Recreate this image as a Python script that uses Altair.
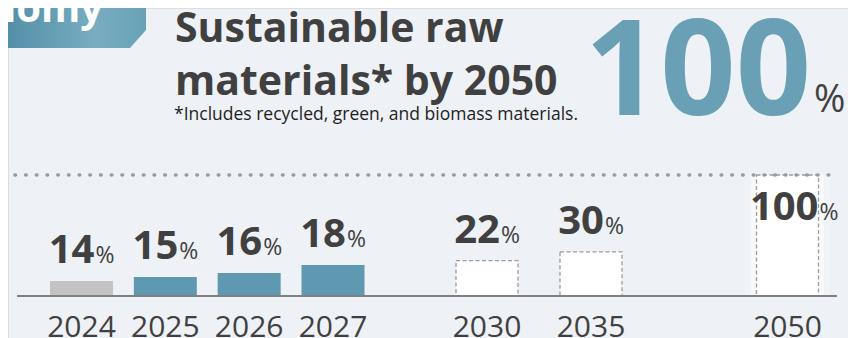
import altair as alt
import pandas as pd

# ---------------- data ----------------
years = [2024, 2025, 2026, 2027, 2030, 2035, 2050]
year_labels = ["2024", "2025", "2026", "2027", "2030", "2035", "2050"]
values = [14, 15, 16, 18, 22, 30, 100]
status = ["actual", "plan", "plan", "plan", "target", "target", "target"]

section_label = "onomy"
title_lines = ["Sustainable raw", "materials* by 2050"]
footnote = "*Includes recycled, green, and biomass materials."
headline_value = "100"
headline_unit = "%"
unit = "%"

df = pd.DataFrame({"year": years, "label": year_labels, "value": values, "status": status})

# ---------------- style ----------------
W, H = 840, 330
FONT = "Open Sans"
BG = "#EEF1F5"
BLUE = "#5F99B1"
BIG_BLUE = "#6AA0B6"
GRAY = "#C3C3C3"
DARK = "#404040"

Y0 = 10.25
xscale = alt.Scale(type="linear", domain=[2024, 2027, 2030, 2035, 2050],
                   range=[73.5, 325, 479, 583, 779.5], zero=False, nice=False, padding=0)
yscale = alt.Scale(type="linear", domain=[Y0, 18, 100], range=[288, 257, 167],
                   zero=False, nice=False, padding=0)

one = alt.Data(values=[{"k": 0}])
base = alt.Chart(df)
X = alt.X("year:Q", scale=xscale, axis=None)
Y = alt.Y("value:Q", scale=yscale, axis=None)


def txt(s, x, y, size, weight="normal", color=DARK, align="left"):
    return alt.Chart(one).mark_text(
        font=FONT, fontSize=size, fontWeight=weight, color=color,
        align=align, baseline="alphabetic"
    ).encode(x=alt.value(x), y=alt.value(y), text=alt.value(s))


# header box with bevelled corner
box = alt.Chart(one).mark_point(
    shape="M -1 -0.3288 L 1 -0.3288 L 1 0.0822 L 0.781 0.3288 L -1 0.3288 Z",
    size=21316, filled=True, opacity=1, strokeWidth=0,
    fill={"gradient": "linear", "x1": 0, "x2": 1, "y1": 0, "y2": 0,
          "stops": [{"offset": 0, "color": "#4F8DA6"},
                    {"offset": 0.65, "color": "#78ADC1"},
                    {"offset": 1, "color": "#68A1B6"}]},
).encode(x=alt.value(65), y=alt.value(16))

box_text = txt(section_label, 95, 14, 40, "bold", "white", "right")
t1 = txt(title_lines[0], 167, 34, 41, "bold")
t2 = txt(title_lines[1], 167, 87, 41, "bold")
t3 = txt(footnote, 166, 112, 17.5, "normal", "#1E1E1E")
big = txt(headline_value, 690, 107, 132, "bold", BIG_BLUE, "center")
big_pct = txt(headline_unit, 806, 104, 38, "normal", DARK)

dotted = alt.Chart(one).mark_rule(
    color="#9A9A9A", strokeWidth=3.6, strokeCap="round", strokeDash=[0.5, 10.2]
).encode(x=alt.value(7), x2=alt.value(830), y=alt.YDatum(100, scale=yscale, axis=None))

baseline = alt.Chart(one).mark_rule(color="#808080", strokeWidth=2).encode(
    x=alt.value(9), x2=alt.value(829), y=alt.YDatum(Y0, scale=yscale, axis=None))

solid = base.transform_filter("datum.status != 'target'").mark_bar(size=63).encode(
    x=X, y=Y, y2=alt.Y2Datum(Y0),
    color=alt.Color("status:N", scale=alt.Scale(domain=["actual", "plan"], range=[GRAY, BLUE]),
                    legend=None))

glow1 = base.transform_filter("datum.year == 2050").mark_bar(
    size=85, color="white", opacity=0.22).encode(x=X, y=Y, y2=alt.Y2Datum(Y0))
glow2 = base.transform_filter("datum.year == 2050").mark_bar(
    size=73, color="white", opacity=0.45).encode(x=X, y=Y, y2=alt.Y2Datum(Y0))

target = base.transform_filter("datum.status == 'target'").mark_bar(
    size=62, fill="white", stroke="#9C9C9C", strokeDash=[4, 2.5], strokeWidth=1.3
).encode(x=X, y=Y, y2=alt.Y2Datum(Y0))

small = base.transform_filter("datum.value < 100")
lab_num = small.mark_text(font=FONT, fontSize=40, fontWeight="bold", color=DARK,
                          align="right", baseline="alphabetic", dx=13, dy=-18).encode(
    x=X, y=Y, text=alt.Text("value:Q"))
lab_pct = small.mark_text(font=FONT, fontSize=23, color=DARK,
                          align="left", baseline="alphabetic", dx=14, dy=-18).encode(
    x=X, y=Y, text=alt.value(unit))

top = base.transform_filter("datum.value >= 100")
top_num = top.mark_text(font=FONT, fontSize=40, fontWeight="bold", color=DARK,
                        align="right", baseline="alphabetic", dx=31, dy=45).encode(
    x=X, y=Y, text=alt.Text("value:Q"))
top_pct = top.mark_text(font=FONT, fontSize=23, color=DARK,
                        align="left", baseline="alphabetic", dx=32, dy=45).encode(
    x=X, y=Y, text=alt.value(unit))

year_txt = base.mark_text(font=FONT, fontSize=30, color=DARK, align="center",
                          baseline="alphabetic").encode(
    x=X, y=alt.value(329), text="label:N")

chart = alt.layer(
    box, box_text, t1, t2, t3, big, big_pct,
    glow1, glow2, solid, target, dotted, baseline,
    lab_num, lab_pct, top_num, top_pct, year_txt
).properties(
    width=W, height=H, padding=0, autosize=alt.AutoSizeParams(type="none")
).configure_view(stroke=None).configure(background=BG)

chart.save("out.html", embed_options={"renderer": "svg", "actions": False})
